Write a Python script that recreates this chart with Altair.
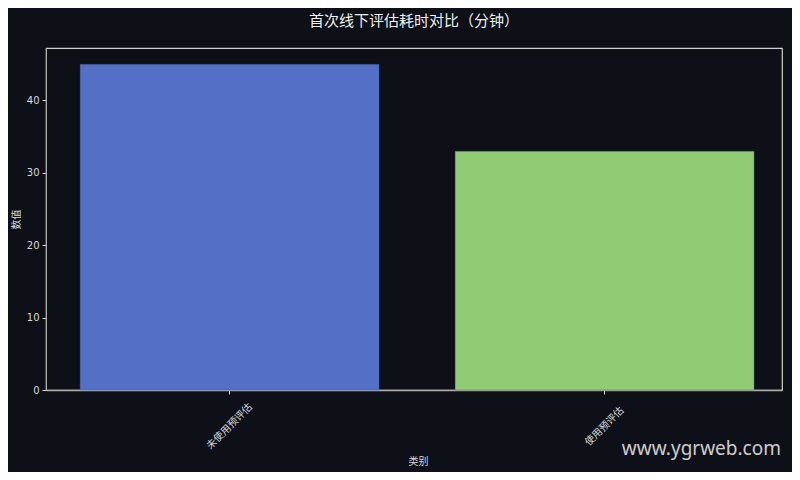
import altair as alt
import pandas as pd

categories = ["未使用预评估", "使用预评估"]
values = [45, 33]
colors = ["#5470c6", "#91cc75"]

df = pd.DataFrame({"类别": categories, "数值": values, "color": colors})

BG = "#0d1017"
FG = "#d9d9d9"

bars = alt.Chart(df).mark_bar(stroke="#3a4a8a", strokeWidth=0.6, strokeOpacity=0.6).encode(
    x=alt.X("类别:N", sort=categories,
            scale=alt.Scale(paddingInner=0.2027, paddingOuter=0.0827, align=0.55),
            axis=alt.Axis(title="类别", labelAngle=-45, labelAlign="center",
                          labelBaseline="middle", labelFontSize=10,
                          labelFont="Noto Sans CJK SC", titleFont="Noto Sans CJK SC",
                          titleFontSize=10, titleFontWeight="normal",
                          labelColor=FG, titleColor=FG, tickColor=FG,
                          domainColor="#aaaaaa", domainWidth=1.5, tickSize=4,
                          labelPadding=32, titleX=372, titleY=71,
                          titleAlign="center", titleBaseline="middle")),
    y=alt.Y("数值:Q", scale=alt.Scale(domain=[0, 47.25], nice=False),
            axis=alt.Axis(title="数值", values=[0, 10, 20, 30, 40], grid=False,
                          labelFont="DejaVu Sans", labelFontSize=10,
                          titleFont="Noto Sans CJK SC", titleFontSize=10,
                          titleFontWeight="normal", labelColor=FG, titleColor=FG,
                          tickColor=FG, domainColor="#aaaaaa", tickSize=4,
                          labelPadding=3, titlePadding=5)),
    color=alt.Color("color:N", scale=None),
)

watermark = alt.Chart(pd.DataFrame({"t": ["www.ygrweb.com"]})).mark_text(
    align="right", baseline="alphabetic", fontSize=19, font="Noto Sans",
    color="#e0e0e0", opacity=0.9
).encode(text="t:N", x=alt.value(735), y=alt.value(407))

chart = alt.layer(bars, watermark).properties(
    width=736, height=342,
    title=alt.TitleParams("首次线下评估耗时对比（分钟）", font="Noto Sans CJK SC",
                          fontSize=15, fontWeight="normal", color="#f0f0f0",
                          anchor="middle", offset=19),
    background=BG,
    padding={"left": 38, "top": 40, "right": 10, "bottom": 82},
    autosize=alt.AutoSizeParams(type="none"),
).configure_view(stroke="#d0d0d0", strokeWidth=1.2)

chart.save("out.html", embed_options={"renderer": "svg", "actions": False})
